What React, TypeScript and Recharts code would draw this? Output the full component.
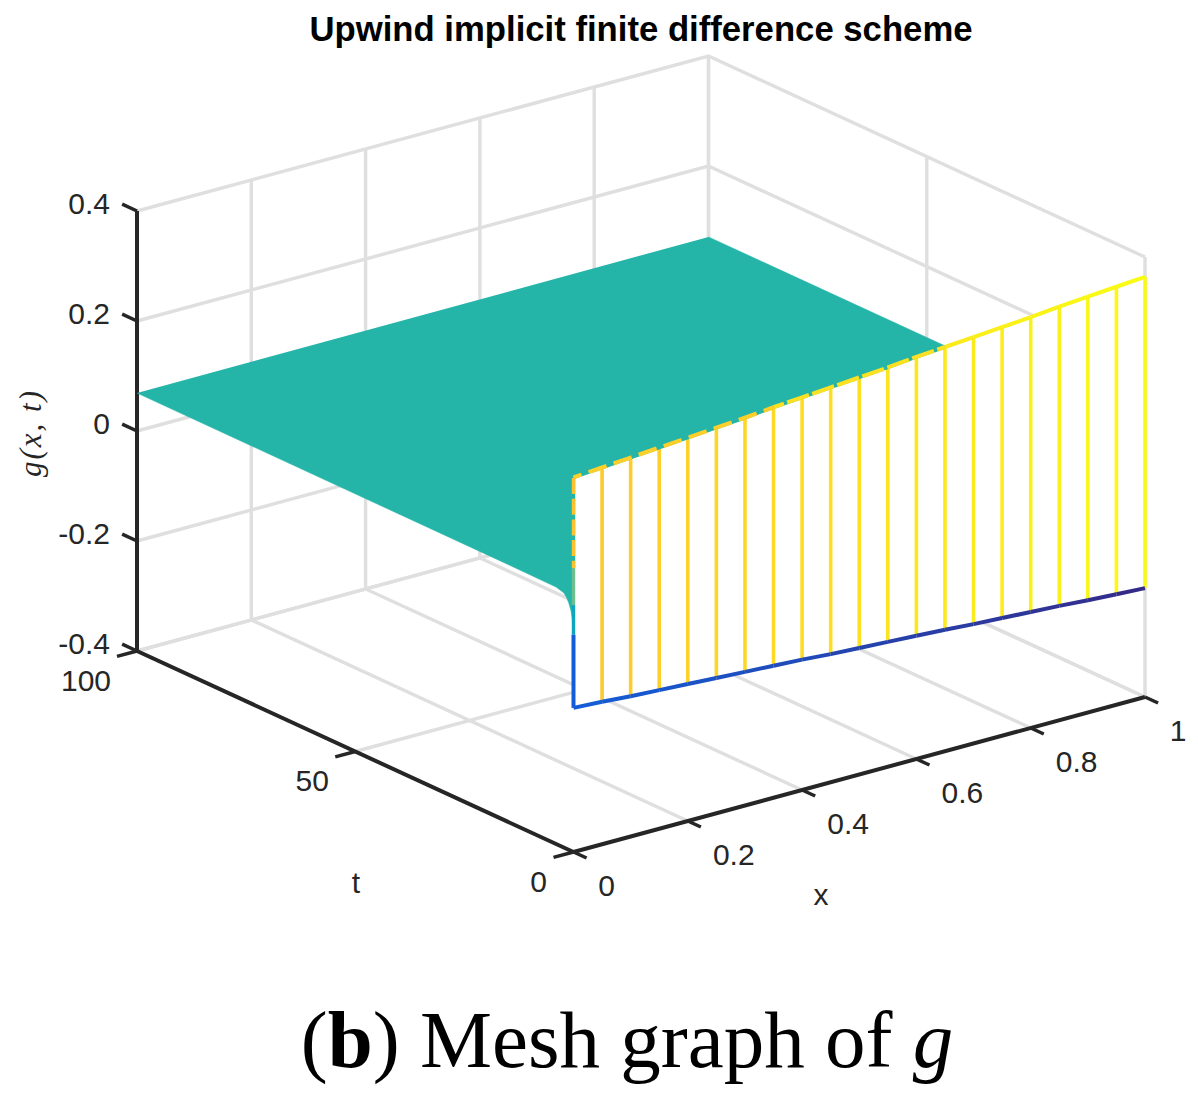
import React from 'react';
import { Scatter, ScatterChart, XAxis, YAxis } from 'recharts';

// axis ticks
const xTicks = [0, 0.2, 0.4, 0.6, 0.8, 1];
const tTicks = [0, 50, 100];
const gTicks = [-0.4, -0.2, 0, 0.2, 0.4];
const xTickLabels = ['0', '0.2', '0.4', '0.6', '0.8', '1'];
const tTickLabels = ['0', '50', '100'];
const gTickLabels = ['-0.4', '-0.2', '0', '0.2', '0.4'];

// mesh rows at t = 0
const xMesh = [0, 0.05, 0.1, 0.15, 0.2, 0.25, 0.3, 0.35, 0.4, 0.45, 0.5, 0.55, 0.6, 0.65, 0.7, 0.75, 0.8, 0.85, 0.9, 0.95, 1];
const gTop = [0.281, 0.285, 0.289, 0.293, 0.297, 0.301, 0.305, 0.31, 0.314, 0.318, 0.322, 0.326, 0.331, 0.335, 0.339, 0.343, 0.347, 0.352, 0.356, 0.36, 0.364];
const gBottom = [-0.138, -0.141, -0.145, -0.148, -0.151, -0.154, -0.157, -0.16, -0.163, -0.167, -0.17, -0.173, -0.176, -0.179, -0.183, -0.186, -0.189, -0.192, -0.196, -0.199, -0.202];

// surface along x = 0, from t = 100 down to the steep drop at t = 0
const tEdge = [100, 16, 4, 2.2, 1.6, 1.1, 0.6, 0.3, 0.07, 0];
const gEdge = [0.069, 0.068, 0.067, 0.063, 0.057, 0.049, 0.037, 0.024, -0.006, -0.01];
const gFarEdge = [0.071, 0.071];

// x = 0 wall edge, pieces by height
const gStemBreaks = [0.28, 0.116, 0.049, -0.005, -0.138];

const G_BOTTOM = -0.4;
const G_TOP = 0.4;
const GRID = '#dfdfdf';
const AXIS = '#262626';
const TEAL = '#25b5a8';
const SANS = '"Liberation Sans", Arial, sans-serif';
const SERIF = '"Liberation Serif", serif';

// orthographic view of the MATLAB box, in page pixels
const project = (x: number, t: number, g: number) => ({
  px: 573.5 + 571.5 * x - 4.365 * t,
  py: 852 - 155 * x - 2.01 * t - (g + 0.4) * 550,
});

const mixHex = (a: number[], b: number[], f: number) =>
  `rgb(${a.map((v, i) => Math.round(v + (b[i] - v) * f)).join(',')})`;
const GOLD = [254, 199, 46];
const YELLOW = [249, 251, 21];
const BLUE = [19, 94, 216];
const NAVY = [53, 42, 135];

type P = [number, number, number];

const seg = (pts: P[], stroke: string, width = 3.4, extra: object = {}, key?: string) => (
  <Scatter
    key={key ?? pts.join('|') + stroke}
    data={pts.map((p) => project(p[0], p[1], p[2]))}
    isAnimationActive={false}
    shape={() => <g />}
    line={{ stroke, strokeWidth: width, fill: 'none', ...extra }}
  />
);

const poly = (pts: P[], fill: string, key: string) => (
  <Scatter
    key={key}
    data={pts.map((p) => project(p[0], p[1], p[2]))}
    isAnimationActive={false}
    shape={() => <g />}
    line={{ stroke: fill, strokeWidth: 0.5, fill }}
  />
);

const tickLabels = (items: { p: P; text: string; dx: number; dy: number; anchor: string }[], key: string) => (
  <Scatter
    key={key}
    data={items.map((d) => ({ ...project(d.p[0], d.p[1], d.p[2]), ...d }))}
    isAnimationActive={false}
    shape={(s: any) => (
      <text
        x={s.cx + s.payload.dx}
        y={s.cy + s.payload.dy}
        textAnchor={s.payload.anchor}
        dominantBaseline="central"
        fontFamily={SANS}
        fontSize={30}
        fill={AXIS}
      >
        {s.payload.text}
      </text>
    )}
  />
);

export default function App() {
  const n = xMesh.length - 1;
  const dashEnd = 13; // x = 0.65, where the surface leaves the wall top
  return (
    <div style={{ position: 'absolute', left: 0, top: 0, width: 1198, height: 1101, background: '#fff' }}>
      <ScatterChart width={1198} height={1101} margin={{ top: 0, right: 0, bottom: 0, left: 0 }}>
        <XAxis type="number" dataKey="px" domain={[0, 1198]} hide />
        <YAxis type="number" dataKey="py" domain={[0, 1101]} reversed hide />

        {/* grid: floor, back wall, right wall */}
        {xTicks.slice(1).map((x) => seg([[x, 0, G_BOTTOM], [x, 100, G_BOTTOM], [x, 100, G_TOP]], GRID))}
        {xTicks.slice(0, 1).map((x) => seg([[x, 100, G_BOTTOM], [x, 100, G_TOP]], GRID))}
        {tTicks.slice(1).map((t) => seg([[0, t, G_BOTTOM], [1, t, G_BOTTOM], [1, t, G_TOP]], GRID))}
        {tTicks.slice(0, 1).map((t) => seg([[1, t, G_BOTTOM], [1, t, G_TOP]], GRID))}
        {gTicks.map((g) => seg([[0, 100, g], [1, 100, g], [1, 0, g]], GRID))}

        {/* axes and tick marks */}
        {seg([[0, 100, G_BOTTOM], [0, 100, G_TOP]], AXIS, 4)}
        {seg([[0, 0, G_BOTTOM], [0, 100, G_BOTTOM]], AXIS, 4)}
        {seg([[0, 0, G_BOTTOM], [1, 0, G_BOTTOM]], AXIS, 4)}
        {gTicks.map((g) => seg([[0, 100, g], [0, 103.4, g]], AXIS, 3.5))}
        {tTicks.map((t) => seg([[0, t, G_BOTTOM], [-0.035, t, G_BOTTOM]], AXIS, 3.5))}
        {xTicks.map((x) => seg([[x, 0, G_BOTTOM], [x, -3, G_BOTTOM]], AXIS, 3.5))}

        {/* surface, then the white wall that hides its front part */}
        {poly(
          [
            ...tEdge.map((t, i): P => [0, t, gEdge[i]]),
            [1, 0, gFarEdge[0]],
            [1, 100, gFarEdge[1]],
          ],
          TEAL,
          'surface',
        )}
        {poly(
          [
            ...xMesh.map((x, i): P => [x, 0, gTop[i]]),
            ...xMesh.map((x, i): P => [x, 0, gBottom[i]]).reverse(),
          ],
          '#ffffff',
          'wall',
        )}

        {/* stems */}
        {xMesh.slice(1).map((x, i) =>
          seg([[x, 0, gTop[i + 1]], [x, 0, gBottom[i + 1]]], mixHex(GOLD, YELLOW, x), 3.6),
        )}

        {/* wall top: broken up by the surface on the left, solid on the right */}
        {seg(xMesh.slice(0, dashEnd + 1).map((x, i): P => [x, 0, gTop[i]]), TEAL, 3.5)}
        {seg(xMesh.slice(0, 8).map((x, i): P => [x, 0, gTop[i]]), mixHex(GOLD, YELLOW, 0.15), 4, {
          strokeDasharray: '19 7.5',
          strokeDashoffset: 10.5,
        })}
        {seg(xMesh.slice(7, dashEnd + 1).map((x, i): P => [x, 0, gTop[i + 7]]), mixHex(GOLD, YELLOW, 0.5), 4, {
          strokeDasharray: '23 3.5',
          strokeDashoffset: 12,
        })}
        {xMesh.slice(dashEnd, n).map((x, i) =>
          seg([[x, 0, gTop[dashEnd + i]], [xMesh[dashEnd + i + 1], 0, gTop[dashEnd + i + 1]]], mixHex(GOLD, YELLOW, x + 0.05), 4),
        )}

        {/* wall bottom */}
        {xMesh.slice(0, n).map((x, i) =>
          seg([[x, 0, gBottom[i]], [xMesh[i + 1], 0, gBottom[i + 1]]], mixHex(BLUE, NAVY, x + 0.025), 4),
        )}

        {/* x = 0 wall edge */}
        {seg([[0, 0, gStemBreaks[0]], [0, 0, gStemBreaks[1]]], TEAL, 3.4)}
        {seg([[0, 0, gStemBreaks[0]], [0, 0, gStemBreaks[1]]], '#fdc22f', 3.4, { strokeDasharray: '16 4.7' })}
        {seg([[0, 0, gStemBreaks[1]], [0, 0, gStemBreaks[2]]], '#6ebf90', 3.4)}
        {seg([[0, 0, gStemBreaks[2]], [0, 0, gStemBreaks[3]]], '#0ea5bd', 3.4)}
        {seg([[0, 0, gStemBreaks[3]], [0, 0, gStemBreaks[4]]], '#135ed8', 4)}

        {/* tick labels */}
        {tickLabels(
          gTicks.map((g, i) => ({ p: [0, 100, g] as P, text: gTickLabels[i], dx: -27, dy: -8, anchor: 'end' })),
          'g-labels',
        )}
        {tickLabels(
          tTicks.map((t, i) => ({
            p: [0, t, G_BOTTOM] as P,
            text: tTickLabels[i],
            dx: -35 - 8 * (tTickLabels[i].length - 1),
            dy: 29,
            anchor: 'middle',
          })),
          't-labels',
        )}
        {tickLabels(
          xTicks.map((x, i) => ({
            p: [x, 0, G_BOTTOM] as P,
            text: xTickLabels[i],
            dx: xTickLabels[i].length > 1 ? 46 : 33,
            dy: 33,
            anchor: 'middle',
          })),
          'x-labels',
        )}

        {/* titles */}
        <text x={641} y={41} textAnchor="middle" fontFamily={SANS} fontWeight="bold" fontSize={34.7} fill="#000">
          Upwind implicit finite difference scheme
        </text>
        <text x={821} y={905} textAnchor="middle" fontFamily={SANS} fontSize={30} fill={AXIS}>x</text>
        <text x={356} y={893} textAnchor="middle" fontFamily={SANS} fontSize={30} fill={AXIS}>t</text>
        <text
          transform="translate(41 433) rotate(-90)"
          textAnchor="middle"
          fontFamily={SERIF}
          fontStyle="italic"
          fontSize={31}
          letterSpacing={2}
          fill={AXIS}
        >
          g(x, t)
        </text>
        <text x={627} y={1067} textAnchor="middle" fontFamily={SERIF} fontSize={81} fill="#000">
          (<tspan fontWeight="bold">b</tspan>) Mesh graph of <tspan fontStyle="italic">g</tspan>
        </text>
      </ScatterChart>
    </div>
  );
}
